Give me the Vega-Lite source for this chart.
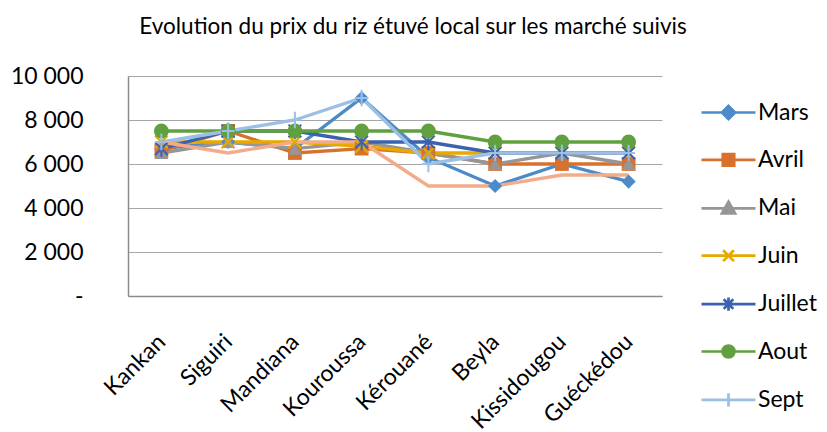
{
  "$schema": "https://vega.github.io/schema/vega-lite/v6.json",
  "width": 534,
  "height": 220,
  "autosize": {"type": "none"},
  "padding": {"left": 128, "top": 76, "right": 165, "bottom": 136},
  "background": "white",
  "config": {
    "view": {"stroke": null},
    "font": "Lato"
  },
  "title": {
    "text": "Evolution du prix du riz étuvé local sur les marché suivis",
    "font": "Lato",
    "fontSize": 22.5,
    "fontWeight": "normal",
    "color": "#000000",
    "anchor": "middle",
    "frame": "group",
    "dx": 18,
    "offset": 27
  },
  "data": {
    "values": [
      {"marche": "Kankan", "mois": "Mars", "prix": 6700},
      {"marche": "Siguiri", "mois": "Mars", "prix": 7000},
      {"marche": "Mandiana", "mois": "Mars", "prix": 6700},
      {"marche": "Kouroussa", "mois": "Mars", "prix": 9000},
      {"marche": "Kérouané", "mois": "Mars", "prix": 6300},
      {"marche": "Beyla", "mois": "Mars", "prix": 5000},
      {"marche": "Kissidougou", "mois": "Mars", "prix": 6000},
      {"marche": "Guéckédou", "mois": "Mars", "prix": 5200},
      {"marche": "Kankan", "mois": "Avril", "prix": 6600},
      {"marche": "Siguiri", "mois": "Avril", "prix": 7500},
      {"marche": "Mandiana", "mois": "Avril", "prix": 6500},
      {"marche": "Kouroussa", "mois": "Avril", "prix": 6700},
      {"marche": "Kérouané", "mois": "Avril", "prix": 6500},
      {"marche": "Beyla", "mois": "Avril", "prix": 6000},
      {"marche": "Kissidougou", "mois": "Avril", "prix": 6000},
      {"marche": "Guéckédou", "mois": "Avril", "prix": 6000},
      {"marche": "Kankan", "mois": "Mai", "prix": 6500},
      {"marche": "Siguiri", "mois": "Mai", "prix": 7000},
      {"marche": "Mandiana", "mois": "Mai", "prix": 6700},
      {"marche": "Kouroussa", "mois": "Mai", "prix": 7000},
      {"marche": "Kérouané", "mois": "Mai", "prix": 6500},
      {"marche": "Beyla", "mois": "Mai", "prix": 6000},
      {"marche": "Kissidougou", "mois": "Mai", "prix": 6500},
      {"marche": "Guéckédou", "mois": "Mai", "prix": 6000},
      {"marche": "Kankan", "mois": "Juin", "prix": 7000},
      {"marche": "Siguiri", "mois": "Juin", "prix": 7000},
      {"marche": "Mandiana", "mois": "Juin", "prix": 7000},
      {"marche": "Kouroussa", "mois": "Juin", "prix": 6800},
      {"marche": "Kérouané", "mois": "Juin", "prix": 6500},
      {"marche": "Beyla", "mois": "Juin", "prix": 6500},
      {"marche": "Kissidougou", "mois": "Juin", "prix": 6500},
      {"marche": "Guéckédou", "mois": "Juin", "prix": 6500},
      {"marche": "Kankan", "mois": "Juillet", "prix": 6700},
      {"marche": "Siguiri", "mois": "Juillet", "prix": 7500},
      {"marche": "Mandiana", "mois": "Juillet", "prix": 7500},
      {"marche": "Kouroussa", "mois": "Juillet", "prix": 7000},
      {"marche": "Kérouané", "mois": "Juillet", "prix": 7000},
      {"marche": "Beyla", "mois": "Juillet", "prix": 6500},
      {"marche": "Kissidougou", "mois": "Juillet", "prix": 6500},
      {"marche": "Guéckédou", "mois": "Juillet", "prix": 6500},
      {"marche": "Kankan", "mois": "Aout", "prix": 7500},
      {"marche": "Siguiri", "mois": "Aout", "prix": 7500},
      {"marche": "Mandiana", "mois": "Aout", "prix": 7500},
      {"marche": "Kouroussa", "mois": "Aout", "prix": 7500},
      {"marche": "Kérouané", "mois": "Aout", "prix": 7500},
      {"marche": "Beyla", "mois": "Aout", "prix": 7000},
      {"marche": "Kissidougou", "mois": "Aout", "prix": 7000},
      {"marche": "Guéckédou", "mois": "Aout", "prix": 7000},
      {"marche": "Kankan", "mois": "Sept", "prix": 7000},
      {"marche": "Siguiri", "mois": "Sept", "prix": 7500},
      {"marche": "Mandiana", "mois": "Sept", "prix": 8000},
      {"marche": "Kouroussa", "mois": "Sept", "prix": 9000},
      {"marche": "Kérouané", "mois": "Sept", "prix": 6000},
      {"marche": "Beyla", "mois": "Sept", "prix": 6500},
      {"marche": "Kissidougou", "mois": "Sept", "prix": 6500},
      {"marche": "Guéckédou", "mois": "Sept", "prix": 6500},
      {"marche": "Kankan", "mois": "Oct", "prix": 7000},
      {"marche": "Siguiri", "mois": "Oct", "prix": 6500},
      {"marche": "Mandiana", "mois": "Oct", "prix": 7000},
      {"marche": "Kouroussa", "mois": "Oct", "prix": 7000},
      {"marche": "Kérouané", "mois": "Oct", "prix": 5000},
      {"marche": "Beyla", "mois": "Oct", "prix": 5000},
      {"marche": "Kissidougou", "mois": "Oct", "prix": 5500},
      {"marche": "Guéckédou", "mois": "Oct", "prix": 5500}
    ]
  },
  "encoding": {
    "x": {
      "field": "marche",
      "type": "nominal",
      "sort": null,
      "scale": {"type": "point", "padding": 0.5},
      "title": null,
      "axis": {
        "labelAngle": -45,
        "labelAlign": "right",
        "labelBaseline": "middle",
        "labelFont": "Lato",
        "labelFontSize": 23,
        "labelColor": "#000000",
        "labelPadding": 42,
        "labelOffset": 0,
        "ticks": false,
        "tickSize": 0,
        "domainColor": "#8c8c8c",
        "domainWidth": 1.5,
        "grid": false,
        "labelOverlap": false
      }
    },
    "y": {
      "field": "prix",
      "type": "quantitative",
      "scale": {"domain": [0, 10000], "nice": false, "zero": true},
      "title": null,
      "axis": {
        "values": [0, 2000, 4000, 6000, 8000, 10000],
        "labelExpr": "datum.value == 0 ? '-\u2007' : replace(format(datum.value, ','), ',', ' ')",
        "labelFont": "Lato",
        "labelFontSize": 23,
        "labelColor": "#000000",
        "labelPadding": 45,
        "ticks": false,
        "tickSize": 0,
        "domainColor": "#8c8c8c",
        "domainWidth": 1.5,
        "grid": true,
        "gridColor": "#a6a6a6",
        "gridWidth": 1.2
      }
    },
    "color": {"field": "mois", "type": "nominal", "sort": null, "legend": null}
  },
  "layer": [
    {
      "mark": {"type": "line", "strokeWidth": 3.3},
      "encoding": {
        "color": {
          "field": "mois",
          "type": "nominal",
          "sort": null,
          "scale": {
            "domain": ["Mars", "Avril", "Mai", "Juin", "Juillet", "Aout", "Sept", "Oct"],
            "range": ["#4C8BC8", "#D8712D", "#969696", "#E8A800", "#3B62AE", "#61A03F", "#9DBFE5", "#F2AC8C"]
          },
          "legend": {
            "values": ["Mars", "Avril", "Mai", "Juin", "Juillet", "Aout", "Sept"],
            "orient": "none",
            "legendX": 589,
            "legendY": 25,
            "title": null,
            "padding": 0,
            "symbolSize": 144,
            "symbolStrokeWidth": 2.7,
            "labelFont": "Lato",
            "labelFontSize": 23,
            "labelColor": "#000000",
            "labelOffset": 18,
            "rowPadding": 23.4,
            "encoding": {
              "symbols": {
                "shape": {"value": {"expr": "datum.value === 'Mars' ? 'M-4.5,0L4.5,0M0,-1.1L1.1,0L0,1.1L-1.1,0Z' : datum.value === 'Avril' ? 'M-4.5,0L4.5,0M-0.95,-0.95L0.95,-0.95L0.95,0.95L-0.95,0.95Z' : datum.value === 'Mai' ? 'M-4.5,0L4.5,0M0,-1.1L1.1,0.85L-1.1,0.85Z' : datum.value === 'Juin' ? 'M-4.5,0L4.5,0M-0.9,-0.9L0.9,0.9M-0.9,0.9L0.9,-0.9' : datum.value === 'Juillet' ? 'M-4.5,0L4.5,0M-0.8,-0.8L0.8,0.8M-0.8,0.8L0.8,-0.8M0,-1.1L0,1.1' : datum.value === 'Aout' ? 'M-4.5,0L4.5,0M-1,0A1,1,0,1,0,1,0A1,1,0,1,0,-1,0Z' : 'M-4.5,0L4.5,0M0,-1.1L0,1.1'"}},
                "fill": {"value": {"expr": "scale('color', datum.value)"}},
                "stroke": {"value": {"expr": "scale('color', datum.value)"}},
                "strokeWidth": {"value": 2.7},
                "opacity": {"value": 1}
              }
            }
          }
        }
      }
    },
    {
      "transform": [{"filter": {"field": "mois", "equal": "Mars"}}],
      "mark": {"type": "point", "shape": "diamond", "filled": true, "opacity": 1, "size": 200}
    },
    {
      "transform": [{"filter": {"field": "mois", "equal": "Avril"}}],
      "mark": {"type": "point", "shape": "square", "filled": true, "opacity": 1, "size": 190}
    },
    {
      "transform": [{"filter": {"field": "mois", "equal": "Mai"}}],
      "mark": {"type": "point", "shape": "triangle-up", "filled": true, "opacity": 1, "size": 200}
    },
    {
      "transform": [{"filter": {"field": "mois", "equal": "Juin"}}],
      "mark": {"type": "point", "shape": "M-1,-1L1,1M-1,1L1,-1", "filled": false, "opacity": 1, "size": 160, "strokeWidth": 2}
    },
    {
      "transform": [{"filter": {"field": "mois", "equal": "Juillet"}}],
      "mark": {"type": "point", "shape": "M-1,-1L1,1M-1,1L1,-1M0,-1.3L0,1.3", "filled": false, "opacity": 1, "size": 160, "strokeWidth": 2}
    },
    {
      "transform": [{"filter": {"field": "mois", "equal": "Aout"}}],
      "mark": {"type": "point", "shape": "circle", "filled": true, "opacity": 1, "size": 220}
    },
    {
      "transform": [{"filter": {"field": "mois", "equal": "Sept"}}],
      "mark": {"type": "point", "shape": "M0,-1.3L0,1.3M-1,0L1,0", "filled": false, "opacity": 1, "size": 160, "strokeWidth": 2}
    }
  ]
}
